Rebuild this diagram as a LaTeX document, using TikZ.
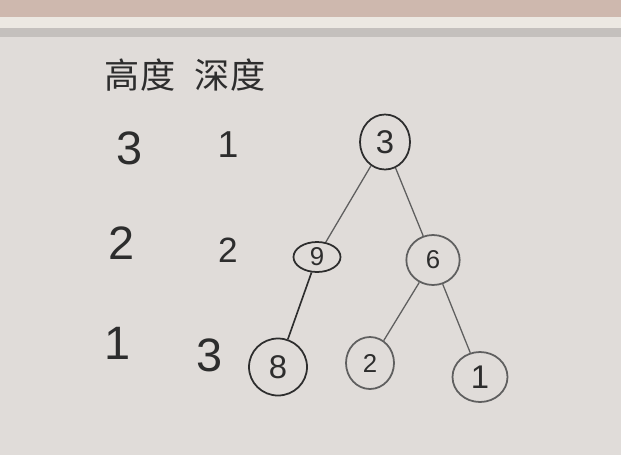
\documentclass[tikz,border=0pt]{standalone}
\usepackage{fontspec}
\setmainfont{Liberation Sans}
\newfontfamily\cjkfont{Noto Sans CJK SC}
\usetikzlibrary{calc,positioning,shapes.geometric}
\definecolor{boardGray}{RGB}{224,220,217}
\definecolor{wallPink}{RGB}{206,184,174}
\definecolor{ledgeLight}{RGB}{236,232,226}
\definecolor{shadeGray}{RGB}{196,192,189}
\definecolor{inkDark}{RGB}{45,45,45}
\definecolor{inkGray}{RGB}{95,95,95}
\tikzset{
  colnum/.style={text=inkDark,font=\fontsize{40}{44}\selectfont,inner sep=0pt},
  hdrtext/.style={text=inkDark,font=\cjkfont\fontsize{30}{34}\selectfont,inner sep=0pt},
  treenode/.style={ellipse,draw=inkDark,line width=1.5pt,inner sep=0pt,text=inkDark,font=\fontsize{28}{32}\selectfont},
  branch/.style={draw=inkGray,line width=1.1pt}
}

\begin{document}
\begin{tikzpicture}
\useasboundingbox (0,0) rectangle (18.63,-13.65);
\fill[boardGray] (0,0) rectangle (18.63,-13.65);
\fill[wallPink] (0,0) rectangle (18.63,-0.5);
\fill[ledgeLight] (0,-0.5) rectangle (18.63,-0.85);
\fill[shadeGray] (0,-0.85) rectangle (18.63,-1.1);

% column headers
\node[hdrtext] (hdrHeight) at (4.2,-2.25) {高度};
\node[hdrtext] (hdrDepth) at (6.9,-2.25) {深度};

% height column
\node[colnum] (h3) at (3.9,-4.44) {3};
\node[colnum] (h2) at (3.66,-7.29) {2};
\node[colnum] (h1) at (3.54,-10.29) {1};

% depth column
\node[colnum,font=\fontsize{32}{36}\selectfont] (d1) at (6.84,-4.35) {1};
\node[colnum,font=\fontsize{30}{34}\selectfont] (d2) at (6.84,-7.5) {2};
\node[colnum] (d3) at (6.3,-10.65) {3};

% tree
\node[treenode,minimum width=1.5cm,minimum height=1.65cm] (root) at (11.55,-4.26) {3};
\node[treenode,minimum width=1.41cm,minimum height=0.9cm,font=\fontsize{22}{26}\selectfont] (n9) at (9.51,-7.71) {9};
\node[treenode,minimum width=1.6cm,minimum height=1.5cm,font=\fontsize{22}{26}\selectfont,draw=inkGray] (n6) at (12.99,-7.8) {6};
\node[treenode,minimum width=1.74cm,minimum height=1.71cm] (n8) at (8.34,-11.01) {8};
\node[treenode,minimum width=1.44cm,minimum height=1.56cm,font=\fontsize{22}{26}\selectfont,draw=inkGray] (n2) at (11.1,-10.89) {2};
\node[treenode,minimum width=1.65cm,minimum height=1.5cm,draw=inkGray] (n1) at (14.4,-11.31) {1};

\draw[branch] (root) -- (n9);
\draw[branch] (root) -- (n6);
\draw[branch,draw=inkDark,line width=1.4pt] (n9) -- (n8);
\draw[branch] (n6) -- (n2);
\draw[branch] (n6) -- (n1);
\end{tikzpicture}
\end{document}
